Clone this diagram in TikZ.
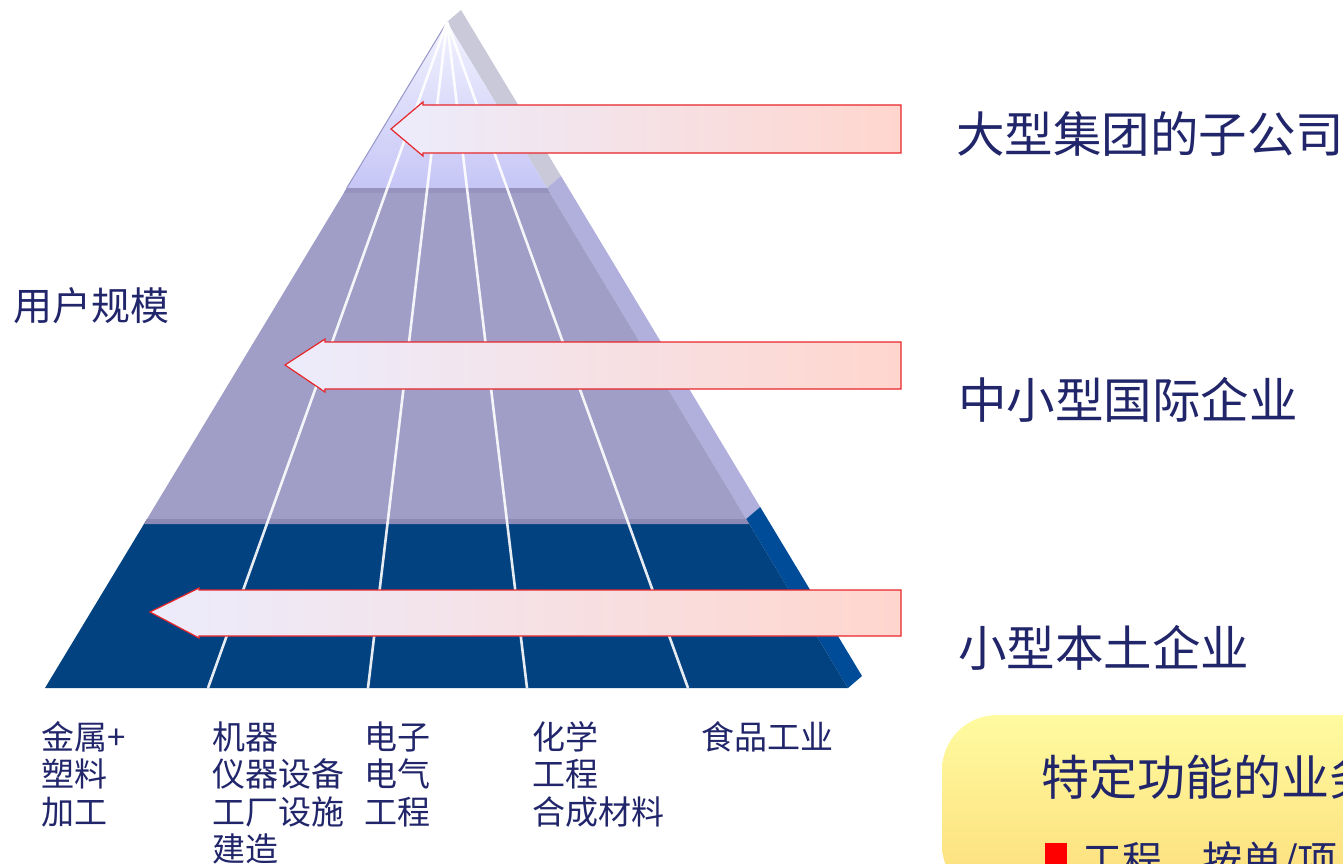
\documentclass[tikz,border=0pt]{standalone}
\usepackage{fontspec}
\newfontfamily\cjk{Noto Sans CJK SC}
\usetikzlibrary{calc}
\definecolor{navy}{RGB}{33,37,106}
\definecolor{topA}{RGB}{242,242,255}
\definecolor{topB}{RGB}{198,198,246}
\definecolor{midF}{RGB}{160,158,198}
\definecolor{midS}{RGB}{150,148,190}
\definecolor{botF}{RGB}{2,66,128}
\definecolor{botS}{RGB}{140,138,180}
\definecolor{edgeL}{RGB}{150,150,200}
\definecolor{sideT}{RGB}{201,201,217}
\definecolor{sideM}{RGB}{177,176,220}
\definecolor{sideB}{RGB}{0,76,153}
\definecolor{arrL}{RGB}{236,236,252}
\definecolor{arrR}{RGB}{255,214,206}
\definecolor{arrE}{RGB}{232,38,42}
\definecolor{boxT}{RGB}{255,251,160}
\definecolor{boxB}{RGB}{252,220,122}
\tikzset{
  lbl/.style={inner sep=0pt, anchor=base west, text=navy, font=\cjk\fontsize{48.5}{56}\selectfont},
  col/.style={inner sep=0pt, anchor=base west, text=navy, align=left, font=\cjk\fontsize{33}{37.6}\selectfont},
  arrowshape/.style={draw=arrE, line width=1.2pt, left color=arrL, right color=arrR, line join=miter},
  ray/.style={draw=white, line width=2.6pt, opacity=0.9}
}
\begin{document}
\begin{tikzpicture}[x=1pt,y=-1pt]
\useasboundingbox (0,0) rectangle (1343,864);
\clip (0,0) rectangle (1343,864);
% pyramid coordinates
\coordinate (A) at (447,22);
\coordinate (A2) at (461,10);
\coordinate (L1) at (346.8,188);
\coordinate (R1) at (547,188);
\coordinate (R1s) at (561,176);
\coordinate (L2) at (147,519);
\coordinate (R2) at (746.2,519);
\coordinate (R2s) at (760.2,507);
\coordinate (BL) at (45,688);
\coordinate (BR) at (848,688);
\coordinate (BRs) at (862,676);
% side faces
\fill[sideT] (A) -- (A2) -- (R1s) -- (R1) -- cycle;
\fill[sideM] (R1) -- (R1s) -- (R2s) -- (R2) -- cycle;
\fill[sideB] (R2) -- (R2s) -- (BRs) -- (BR) -- cycle;
% front faces
\shade[top color=topA, bottom color=topB] (A) -- (L1) -- (R1) -- cycle;
\fill[midF] (L1) -- (R1) -- (R2) -- (L2) -- cycle;
\fill[midS] (L1) -- (R1) -- ($(R1)!0.015!(R2)$) -- ($(L1)!0.015!(L2)$) -- cycle;
\fill[botF] (L2) -- (R2) -- (BR) -- (BL) -- cycle;
\fill[botS] (L2) -- (R2) -- ($(R2)!0.03!(BR)$) -- ($(L2)!0.03!(BL)$) -- cycle;
\draw[edgeL, line width=1pt] (A) -- (L1);
% rays
\coordinate (b1) at (208,688);
\coordinate (b2) at (368,688);
\coordinate (b3) at (527,688);
\coordinate (b4) at (688,688);
\foreach \b in {b1,b2,b3,b4} \draw[ray] (A) -- (\b);
% arrows
\path[arrowshape] (901,105) -- (423,105) -- (423,102) -- (391,129) -- (423,156) -- (423,153) -- (901,153) -- cycle;
\path[arrowshape] (901,342) -- (325,342) -- (325,339) -- (285,365) -- (325,392) -- (325,389) -- (901,389) -- cycle;
\path[arrowshape] (901,590) -- (199,590) -- (199,588) -- (150,612) -- (199,638) -- (199,636) -- (901,636) -- cycle;
% right labels
\node[lbl] (t1) at (956,152) {大型集团的子公司};
\node[lbl] (t2) at (958,418) {中小型国际企业};
\node[lbl] (t3) at (958,666) {小型本土企业};
\node[lbl, font=\cjk\fontsize{39}{46}\selectfont] (scale) at (13,320) {用户规模};
% bottom labels (base anchor = baseline of the last line)
\node[col] (c1) at (41,824.2) {金属+\\塑料\\加工};
\node[col] (c2) at (212,861.8) {机器\\仪器设备\\工厂设施\\建造};
\node[col] (c3) at (364,824.2) {电子\\电气\\工程};
\node[col] (c4) at (532,824.2) {化学\\工程\\合成材料};
\node[col] (c5) at (701,749) {食品工业};
% yellow box
\shade[top color=boxT, bottom color=boxB, rounded corners=55pt] (942,715) rectangle (1420,900);
\node[lbl, font=\cjk\fontsize{48}{56}\selectfont] (bt) at (1041,795) {特定功能的业务};
\fill[red] (1045,843) rectangle (1067,866);
\node[lbl, font=\cjk\fontsize{40}{48}\selectfont] (bi) at (1082,875) {工程，按单/项目};
\end{tikzpicture}
\end{document}
